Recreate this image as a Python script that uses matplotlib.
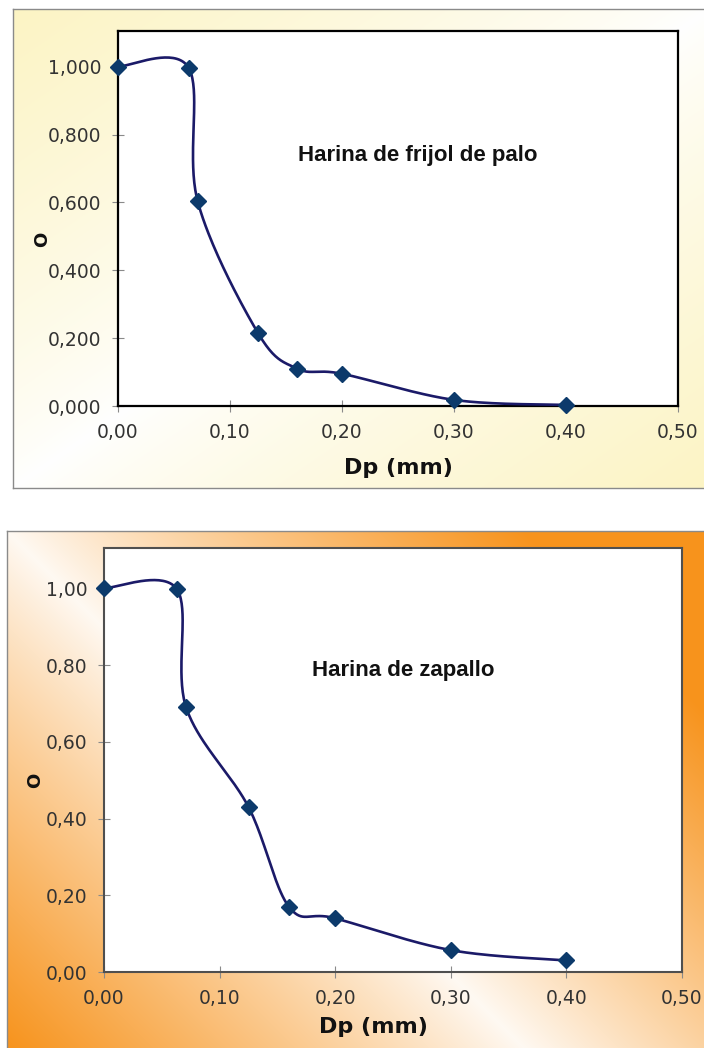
import numpy as np
import matplotlib.pyplot as plt
from matplotlib.colors import to_rgb

# sieve opening (mm) and fraction retained for each flour
dp = [0.0, 0.063, 0.071, 0.125, 0.16, 0.20, 0.30, 0.40]
frijol = [1.000, 0.997, 0.605, 0.215, 0.110, 0.095, 0.018, 0.003]
zapallo = [1.000, 0.998, 0.690, 0.430, 0.170, 0.140, 0.057, 0.030]

x_ticks = [0.0, 0.1, 0.2, 0.3, 0.4, 0.5]
y_ticks = [0.0, 0.2, 0.4, 0.6, 0.8, 1.0]
titles = ["Harina de frijol de palo", "Harina de zapallo"]

W, H = 704, 1048
LINE = "#1b1a68"
MARK = "#0c3a6b"


def fx(px):
    return px / W


def fy(py):
    return 1 - py / H


def smooth(xs, ys, n=40):
    # cubic bezier through the points (catmull-rom style tangents)
    p = np.column_stack([xs, ys]).astype(float)
    e = np.vstack([p[0], p, p[-1]])
    t = np.linspace(0, 1, n)[1:, None]
    out = [p[:1]]
    for i in range(len(p) - 1):
        a, b = e[i + 1], e[i + 2]
        c1 = a + (e[i + 2] - e[i]) / 6
        c2 = b - (e[i + 3] - e[i + 1]) / 6
        out.append((1 - t) ** 3 * a + 3 * (1 - t) ** 2 * t * c1
                   + 3 * (1 - t) * t ** 2 * c2 + t ** 3 * b)
    s = np.vstack(out)
    return s[:, 0], s[:, 1]


def panel_bg(box, img):
    l, t, r, b = box
    bg = fig.add_axes([fx(l), fy(b), fx(r - l), (b - t) / H])
    bg.imshow(img, aspect="auto", extent=[0, 1, 0, 1], interpolation="bilinear")
    bg.set_xticks([])
    bg.set_yticks([])
    for sp in bg.spines.values():
        sp.set_color("#8a8a8a")
        sp.set_linewidth(1.0)
    return bg


def panel(box, vals, fmt, title, tpos, spine_col, spine_w, xlab, ylab):
    l, t, r, b = box
    ax = fig.add_axes([fx(l), fy(b), fx(r - l), (b - t) / H])
    ax.set_facecolor("white")
    ax.set_xlim(0, 0.5)
    ax.set_ylim(0, 1.105)
    ax.set_xticks(x_ticks, labels=[f"{v:.2f}".replace(".", ",") for v in x_ticks])
    ax.set_yticks(y_ticks, labels=[fmt.format(v).replace(".", ",") for v in y_ticks])
    ax.tick_params(direction="inout", length=9, width=0.8, color="#8a8a8a",
                   labelsize=13.5, labelcolor="#333333", pad=7.5)
    for sp in ax.spines.values():
        sp.set_color(spine_col)
        sp.set_linewidth(spine_w)

    sx, sy = smooth(dp, vals)
    ax.plot(sx, sy, color=LINE, lw=1.9, zorder=3, clip_on=False)
    ax.plot(dp, vals, "D", ms=8, color=MARK, mec=MARK, zorder=4, clip_on=False)

    ax.text(tpos[0], tpos[1], title, transform=ax.transAxes, ha="center",
            va="center", fontsize=16, fontweight="bold", color="#111111",
            family="Liberation Sans")
    ax.text(xlab[0], xlab[1], "Dp (mm)", transform=ax.transAxes, ha="center",
            va="center", fontsize=16, fontweight="bold", color="#111111")
    ax.text(ylab[0], ylab[1], "O", transform=ax.transAxes, ha="center",
            va="center", rotation=90, fontsize=13, fontweight="bold",
            color="#111111")
    return ax


fig = plt.figure(figsize=(W / 100, H / 100), dpi=100)
fig.patch.set_facecolor("white")

# top panel: pale yellow corners
tw, th = 697, 479
u = np.linspace(0, 1, tw)[None, :]
v = np.linspace(0, 1, th)[:, None]
k = np.abs(u + v - 1) ** 0.8
yel = np.array(to_rgb("#fcf4c4"))
panel_bg((13, 9, 710, 488), 1 - (1 - yel) * k[..., None])

# bottom panel: orange corners, white along the diagonal
bw, bh = 703, 522
dx = np.arange(bw)[None, :]
dy = np.arange(bh)[:, None]
k = np.clip(0.04 + np.abs(dx - dy) / 540, 0, 1) ** 0.9
org = np.array(to_rgb("#f7931c"))
panel_bg((7, 531, 710, 1053), 1 - (1 - org) * k[..., None])

panel((118, 31, 678, 406), frijol, "{:.3f}", titles[0], (0.536, 0.669),
      "black", 1.6, (0.5, -0.165), (-0.136, 0.445))
panel((104, 548, 682, 972), zapallo, "{:.2f}", titles[1], (0.518, 0.712),
      "#4f4f4f", 1.5, (0.466, -0.13), (-0.119, 0.453))

fig.savefig("out.png", dpi=100)
